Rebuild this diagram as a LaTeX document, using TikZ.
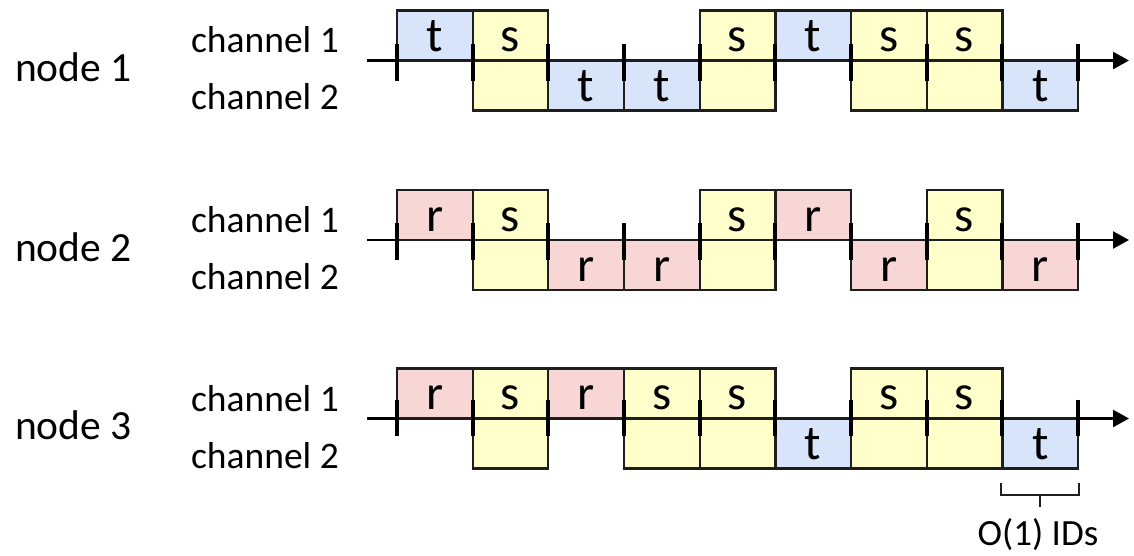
\documentclass[tikz,border=0pt]{standalone}
\usepackage{fontspec}
\setmainfont{Carlito}
\usetikzlibrary{arrows.meta}
\definecolor{tblue}{RGB}{216,228,250}
\definecolor{syellow}{RGB}{255,255,204}
\definecolor{rpink}{RGB}{249,214,214}
\definecolor{edge}{RGB}{30,30,30}
\newcommand{\slotx}[1]{397+(#1-1)*75.67}
\newcommand{\upbox}[5]{\node[cellbox,#4,anchor=south west] (#1) at ({\slotx{#3}},#2) {#5};}
\newcommand{\lowbox}[5]{\node[cellbox,#4,anchor=north west] (#1) at ({\slotx{#3}},#2) {#5};}
\begin{document}
\begin{tikzpicture}[x=1pt,y=-1pt,
  cellbox/.style={draw=edge,line width=2.3pt,minimum width=75.67pt,inner sep=0pt,outer sep=0pt,
    text height=41pt,text depth=9pt,font=\fontsize{49}{49}\selectfont},
  tb/.style={fill=tblue},
  sb/.style={fill=syellow},
  rb/.style={fill=rpink},
  axisline/.style={draw=black,line width=2.3pt,-{Triangle[length=16pt,width=17pt]}},
  tickmark/.style={draw=black,line width=4pt},
  nodelabel/.style={font=\fontsize{41.5}{41.5}\selectfont,anchor=base west,inner sep=0pt},
  chlabel/.style={font=\fontsize{37.5}{37.5}\selectfont,anchor=base east,inner sep=0pt},
  bracket/.style={draw=edge,line width=2.2pt}
]
\useasboundingbox (0,0) rectangle (1134,556);

% ---------- row 1 ----------
\def\ay{60.5}
\coordinate (a1s) at (367,\ay);
\coordinate (a1e) at (1129,\ay);
\draw[axisline] (a1s) -- (a1e);
\upbox{n1u1}{\ay}{1}{tb}{t}
\upbox{n1u2}{\ay}{2}{sb}{s}
\lowbox{n1l2}{\ay}{2}{sb}{}
\lowbox{n1l3}{\ay}{3}{tb}{t}
\lowbox{n1l4}{\ay}{4}{tb}{t}
\upbox{n1u5}{\ay}{5}{sb}{s}
\lowbox{n1l5}{\ay}{5}{sb}{}
\upbox{n1u6}{\ay}{6}{tb}{t}
\upbox{n1u7}{\ay}{7}{sb}{s}
\lowbox{n1l7}{\ay}{7}{sb}{}
\upbox{n1u8}{\ay}{8}{sb}{s}
\lowbox{n1l8}{\ay}{8}{sb}{}
\lowbox{n1l9}{\ay}{9}{tb}{t}
\foreach \i in {1,...,10} \draw[tickmark] ({\slotx{\i}},\ay-16) -- ++(0,37);
\node[nodelabel] (node1) at (15,\ay+21) {node 1};
\node[chlabel] (c11) at (339,\ay-7.5) {channel 1};
\node[chlabel] (c12) at (339,\ay+49.5) {channel 2};

% ---------- row 2 ----------
\def\ay{240}
\coordinate (a2s) at (367,\ay);
\coordinate (a2e) at (1129,\ay);
\draw[axisline] (a2s) -- (a2e);
\upbox{n2u1}{\ay}{1}{rb}{r}
\upbox{n2u2}{\ay}{2}{sb}{s}
\lowbox{n2l2}{\ay}{2}{sb}{}
\lowbox{n2l3}{\ay}{3}{rb}{r}
\lowbox{n2l4}{\ay}{4}{rb}{r}
\upbox{n2u5}{\ay}{5}{sb}{s}
\lowbox{n2l5}{\ay}{5}{sb}{}
\upbox{n2u6}{\ay}{6}{rb}{r}
\lowbox{n2l7}{\ay}{7}{rb}{r}
\upbox{n2u8}{\ay}{8}{sb}{s}
\lowbox{n2l8}{\ay}{8}{sb}{}
\lowbox{n2l9}{\ay}{9}{rb}{r}
\foreach \i in {1,...,10} \draw[tickmark] ({\slotx{\i}},\ay-17) -- ++(0,37);
\node[nodelabel] (node2) at (15,\ay+21) {node 2};
\node[chlabel] (c21) at (339,\ay-7.5) {channel 1};
\node[chlabel] (c22) at (339,\ay+49.5) {channel 2};

% ---------- row 3 ----------
\def\ay{418.5}
\coordinate (a3s) at (367,\ay);
\coordinate (a3e) at (1129,\ay);
\draw[axisline] (a3s) -- (a3e);
\upbox{n3u1}{\ay}{1}{rb}{r}
\upbox{n3u2}{\ay}{2}{sb}{s}
\lowbox{n3l2}{\ay}{2}{sb}{}
\upbox{n3u3}{\ay}{3}{rb}{r}
\upbox{n3u4}{\ay}{4}{sb}{s}
\lowbox{n3l4}{\ay}{4}{sb}{}
\upbox{n3u5}{\ay}{5}{sb}{s}
\lowbox{n3l5}{\ay}{5}{sb}{}
\lowbox{n3l6}{\ay}{6}{tb}{t}
\upbox{n3u7}{\ay}{7}{sb}{s}
\lowbox{n3l7}{\ay}{7}{sb}{}
\upbox{n3u8}{\ay}{8}{sb}{s}
\lowbox{n3l8}{\ay}{8}{sb}{}
\lowbox{n3l9}{\ay}{9}{tb}{t}
\foreach \i in {1,...,10} \draw[tickmark] ({\slotx{\i}},\ay-19) -- ++(0,36);
\node[nodelabel] (node3) at (15,\ay+21) {node 3};
\node[chlabel] (c31) at (339,\ay-7.5) {channel 1};
\node[chlabel] (c32) at (339,\ay+49.5) {channel 2};

% ---------- bracket ----------
\coordinate (bl) at (1001,483);
\coordinate (br) at (1079,483);
\coordinate (bm) at (1040,495);
\coordinate (bt) at (1040,507);
\draw[bracket] (bl) |- (bm) -| (br);
\draw[bracket] (bm) -- (bt);
\node[font=\fontsize{37}{37}\selectfont,inner sep=0pt] (ids) at (1038,535) {O(1) IDs};
\end{tikzpicture}
\end{document}
